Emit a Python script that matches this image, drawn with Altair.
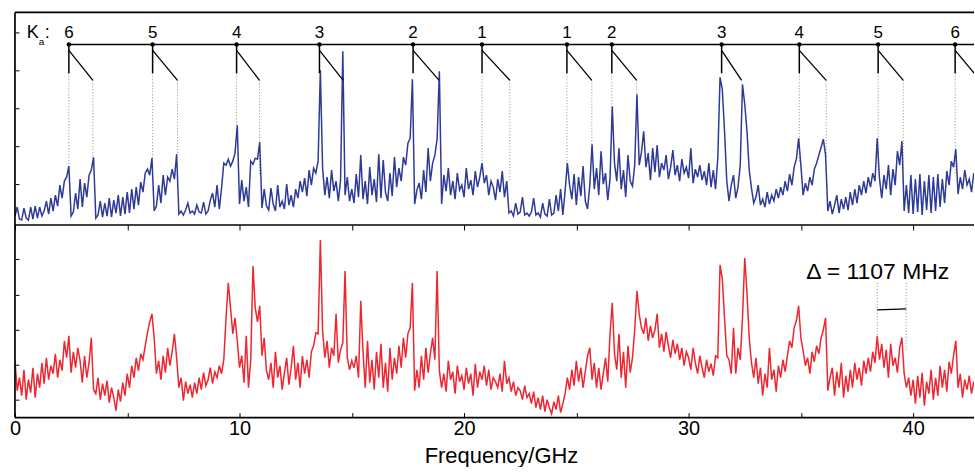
import altair as alt
import pandas as pd

# ---------------- data ----------------
# Upper (blue) spectrum, intensity in arbitrary units, 0.1 GHz steps from 0.0 GHz
BLUE_ROWS = [
    [9, 18, 6, 5, 17, 7, 5, 18, 6, 19],
    [7, 18, 9, 14, 24, 11, 27, 14, 30, 19],
    [40, 27, 44, 48, 59, 9, 13, 32, 16, 46],
    [18, 42, 28, 50, 55, 68, 7, 10, 24, 8],
    [22, 9, 27, 8, 25, 12, 30, 9, 28, 11],
    [33, 12, 36, 16, 38, 20, 43, 33, 52, 56],
    [50, 67, 14, 19, 40, 22, 50, 30, 48, 44],
    [56, 46, 71, 11, 14, 10, 15, 22, 12, 14],
    [11, 20, 13, 12, 23, 11, 14, 25, 32, 18],
    [40, 16, 37, 62, 60, 66, 59, 64, 72, 100],
    [21, 45, 24, 38, 18, 64, 61, 67, 66, 83],
    [17, 36, 19, 15, 37, 21, 14, 40, 18, 24],
    [16, 41, 20, 30, 18, 36, 27, 44, 33, 47],
    [29, 55, 40, 57, 52, 64, 155, 57, 30, 48],
    [27, 55, 34, 44, 24, 45, 174, 30, 48, 24],
    [36, 22, 51, 28, 70, 26, 44, 21, 58, 30],
    [46, 23, 71, 27, 65, 33, 24, 52, 29, 68],
    [38, 57, 44, 68, 60, 82, 87, 146, 21, 35],
    [42, 26, 55, 33, 77, 44, 62, 70, 86, 154],
    [21, 50, 34, 57, 30, 44, 26, 52, 35, 40],
    [28, 57, 36, 45, 30, 54, 38, 48, 62, 42],
    [50, 30, 44, 38, 25, 46, 33, 54, 28, 44],
    [12, 14, 9, 22, 11, 13, 28, 10, 12, 9],
    [13, 27, 10, 12, 8, 22, 11, 9, 26, 10],
    [12, 30, 14, 36, 10, 34, 62, 40, 26, 51],
    [20, 48, 29, 59, 24, 16, 40, 81, 36, 57],
    [30, 74, 41, 52, 25, 46, 119, 62, 44, 77],
    [36, 55, 28, 70, 44, 39, 60, 131, 60, 73],
    [94, 58, 72, 45, 77, 53, 80, 48, 62, 55],
    [70, 46, 58, 75, 50, 60, 44, 66, 52, 58],
    [47, 77, 42, 56, 48, 60, 45, 54, 40, 62],
    [38, 55, 36, 67, 148, 136, 94, 44, 24, 40],
    [50, 27, 38, 60, 141, 121, 94, 55, 37, 22],
    [28, 40, 20, 26, 18, 33, 21, 30, 24, 36],
    [27, 38, 30, 44, 34, 51, 40, 58, 66, 87],
    [60, 30, 42, 34, 48, 40, 56, 62, 70, 78],
    [86, 70, 14, 24, 11, 20, 30, 12, 26, 16],
    [28, 15, 33, 20, 36, 22, 40, 30, 44, 32],
    [48, 38, 52, 44, 87, 47, 27, 50, 36, 60],
    [30, 56, 40, 74, 60, 84, 14, 40, 12, 50],
    [11, 46, 13, 51, 10, 44, 15, 50, 12, 48],
    [14, 51, 18, 46, 22, 54, 40, 64, 58, 76],
    [31, 48, 36, 55, 40, 46, 33, 52],
]

# Lower (red) spectrum, same grid
RED_ROWS = [
    [57, 27, 40, 22, 48, 18, 38, 25, 50, 20],
    [44, 30, 55, 34, 60, 38, 52, 44, 64, 40],
    [58, 47, 77, 60, 82, 45, 66, 50, 70, 57],
    [35, 62, 40, 55, 80, 28, 24, 40, 18, 34],
    [22, 37, 15, 30, 20, 7, 28, 16, 35, 22],
    [44, 30, 52, 40, 60, 47, 64, 58, 72, 85],
    [96, 104, 80, 44, 57, 38, 62, 45, 70, 52],
    [66, 84, 60, 30, 40, 17, 36, 24, 33, 20],
    [35, 24, 40, 28, 45, 32, 38, 50, 34, 46],
    [40, 52, 44, 58, 100, 135, 110, 84, 100, 77],
    [50, 62, 35, 82, 30, 58, 152, 110, 96, 112],
    [62, 80, 47, 38, 55, 30, 66, 40, 52, 28],
    [45, 60, 33, 50, 72, 38, 55, 30, 62, 44],
    [58, 40, 66, 72, 85, 84, 178, 87, 60, 77],
    [50, 70, 62, 104, 55, 68, 75, 147, 60, 48],
    [57, 50, 62, 40, 117, 66, 30, 77, 35, 58],
    [28, 66, 40, 74, 30, 55, 26, 70, 38, 60],
    [44, 72, 50, 80, 60, 84, 90, 135, 27, 48],
    [30, 62, 38, 70, 45, 64, 80, 58, 147, 47],
    [30, 44, 26, 57, 38, 46, 24, 52, 36, 42],
    [28, 50, 34, 44, 22, 54, 30, 46, 38, 52],
    [32, 48, 28, 40, 36, 30, 44, 26, 57, 34],
    [40, 26, 36, 22, 30, 27, 18, 32, 20, 24],
    [14, 26, 10, 20, 8, 22, 6, 18, 10, 4],
    [16, 8, 22, 5, 14, 24, 40, 28, 48, 32],
    [57, 36, 50, 30, 46, 62, 70, 38, 55, 30],
    [50, 28, 44, 60, 36, 84, 115, 64, 48, 84],
    [40, 66, 30, 72, 45, 60, 88, 127, 104, 90],
    [84, 100, 77, 92, 80, 88, 104, 70, 84, 66],
    [86, 72, 60, 78, 64, 74, 58, 70, 52, 66],
    [60, 48, 70, 55, 44, 62, 50, 40, 58, 46],
    [54, 42, 62, 60, 153, 139, 100, 62, 58, 44],
    [90, 44, 70, 58, 100, 160, 125, 80, 55, 40],
    [60, 34, 50, 22, 44, 30, 70, 38, 48, 26],
    [52, 40, 58, 46, 62, 77, 70, 90, 97, 112],
    [80, 67, 52, 60, 44, 66, 56, 72, 64, 80],
    [88, 100, 27, 40, 50, 22, 46, 30, 55, 20],
    [42, 26, 48, 30, 55, 38, 50, 32, 57, 44],
    [60, 46, 66, 55, 82, 58, 74, 50, 68, 40],
    [74, 52, 60, 45, 70, 80, 44, 30, 40, 22],
    [38, 14, 42, 20, 45, 12, 36, 24, 48, 18],
    [40, 22, 52, 30, 48, 26, 56, 44, 62, 77],
    [30, 44, 20, 38, 28, 42, 24, 36],
]

FREQ_STEP = 0.1  # GHz per sample

# K_a assignment ladder
KA_LABELS = ["6", "5", "4", "3", "2", "1", "1", "2", "3", "4", "5", "6"]
KA_F1 = [2.40, 6.13, 9.87, 13.56, 17.73, 20.80, 24.58, 26.58, 31.47, 34.93, 38.44, 41.87]
KA_F2 = [3.47, 7.24, 10.89, 14.62, 18.89, 22.04, 25.69, 27.69, 32.36, 36.13, 39.56, 42.98]
KA_DOT1_END = [61, 67, 99, 152, 152, 62, 57, 121, 152, 64, 54, 51]
KA_DOT2_END = [69, 71, 51, 145, 145, 44, 81, 131, 145, 67, 47, 145]

# Delta marker in the lower trace
DELTA_F = [38.40, 39.69]
DELTA_DOT_END = [77, 67]
DELTA_TEXT = "\u0394 = 1107 MHz"

X_TICKS = [0, 5, 10, 15, 20, 25, 30, 35, 40]
Y_TICKS_TOP = [41, 79, 117, 155, 193]
Y_TICKS_BOT = [18, 53, 88, 123, 159]

# ---------------- layout / style constants ----------------
FONT = "Liberation Sans"
BLUE = "#2E3A97"
RED = "#EE2630"
X_DOMAIN = [0, 42.71]
W = 961
H_TOP = 213
H_BOT = 193
H = H_TOP + H_BOT
FRAME_W = 1.7
BAR_V = 181      # level of the horizontal ladder line
STEM_END = 152   # lower end of the vertical stems
DIAG_TOP = 175
DIAG_BOT = 145
LABEL_V = 187
DELTA_TOP = 135
DELTA_BAR = [108, 109]

# ---------------- tables ----------------
blue = [v for row in BLUE_ROWS for v in row]
red = [v for row in RED_ROWS for v in row]
freq = [round(i * FREQ_STEP, 1) for i in range(len(blue))]
df_blue = pd.DataFrame({"f": freq, "v": blue})
df_red = pd.DataFrame({"f": freq[: len(red)], "v": red})

df_ka = pd.DataFrame({
    "lab": KA_LABELS, "f1": KA_F1, "f2": KA_F2,
    "d1": KA_DOT1_END, "d2": KA_DOT2_END,
    "bar": [BAR_V] * len(KA_F1), "stem": [STEM_END] * len(KA_F1),
    "dt": [DIAG_TOP] * len(KA_F1), "db": [DIAG_BOT] * len(KA_F1),
    "lv": [LABEL_V] * len(KA_F1),
})
df_bar = pd.DataFrame({"a": [KA_F1[0]], "b": [X_DOMAIN[1]], "v": [BAR_V]})
df_one = pd.DataFrame({"k": [0]})

xs = alt.Scale(domain=X_DOMAIN, nice=False, zero=False)
# two stacked panels share one plot area: each y scale gets its own pixel band
ys_top = alt.Scale(domain=[0, H_TOP], range=[H_TOP, 0], nice=False, zero=False)
ys_bot = alt.Scale(domain=[0, H_BOT], range=[H, H_TOP], nice=False, zero=False)


def yaxis(vals):
    return alt.Axis(values=vals, orient="left", labels=False, domain=False, grid=False, ticks=True,
                    tickSize=4, offset=-4, title=None, tickColor="black", tickWidth=1,
                    minExtent=0, maxExtent=0)


def frame(x, x2, y, y2):
    return alt.Chart(df_one).mark_rule(color="black", strokeWidth=FRAME_W).encode(
        x=alt.value(x), x2=alt.value(x2), y=alt.value(y), y2=alt.value(y2))


# ---------------- upper panel ----------------
dots1 = alt.Chart(df_ka).mark_rule(color="#8c8c8c", strokeWidth=1, strokeDash=[1, 2], clip=True).encode(
    x=alt.X("f1:Q", scale=xs, axis=None),
    y=alt.Y("stem:Q", scale=ys_top, axis=None), y2="d1:Q")
dots2 = alt.Chart(df_ka).mark_rule(color="#8c8c8c", strokeWidth=1, strokeDash=[1, 2], clip=True).encode(
    x=alt.X("f2:Q", scale=xs, axis=None),
    y=alt.Y("db:Q", scale=ys_top, axis=None), y2="d2:Q")
blue_line = alt.Chart(df_blue).mark_line(color=BLUE, strokeWidth=1.5, clip=True).encode(
    x=alt.X("f:Q", scale=xs, axis=None),
    y=alt.Y("v:Q", scale=ys_top, axis=yaxis(Y_TICKS_TOP)))
bar = alt.Chart(df_bar).mark_rule(color="black", strokeWidth=1.5, clip=True).encode(
    x=alt.X("a:Q", scale=xs, axis=None), x2="b:Q",
    y=alt.Y("v:Q", scale=ys_top, axis=None))
stems = alt.Chart(df_ka).mark_rule(color="black", strokeWidth=1.5, clip=True).encode(
    x=alt.X("f1:Q", scale=xs, axis=None),
    y=alt.Y("bar:Q", scale=ys_top, axis=None), y2="stem:Q")
diags = alt.Chart(df_ka).mark_rule(color="black", strokeWidth=1.3, clip=True).encode(
    x=alt.X("f1:Q", scale=xs, axis=None), x2="f2:Q",
    y=alt.Y("dt:Q", scale=ys_top, axis=None), y2="db:Q")
pts = alt.Chart(df_ka).mark_circle(color="black", size=20, opacity=1).encode(
    x=alt.X("f1:Q", scale=xs, axis=None),
    y=alt.Y("bar:Q", scale=ys_top, axis=None))
labels = alt.Chart(df_ka).mark_text(font=FONT, fontSize=17, color="black", baseline="alphabetic",
                                    align="center").encode(
    x=alt.X("f1:Q", scale=xs, axis=None),
    y=alt.Y("lv:Q", scale=ys_top, axis=None), text="lab:N")

df_k = pd.DataFrame({"f": [0.52, 1.33], "v": [LABEL_V, LABEL_V], "t": ["K", ":"]})
df_sub = pd.DataFrame({"f": [1.06], "v": [180], "t": ["a"]})
k_text = alt.Chart(df_k).mark_text(font=FONT, fontSize=18, color="black", align="left",
                                   baseline="alphabetic").encode(
    x=alt.X("f:Q", scale=xs, axis=None), y=alt.Y("v:Q", scale=ys_top, axis=None), text="t:N")
sub_text = alt.Chart(df_sub).mark_text(font=FONT, fontSize=10, color="black", align="left",
                                       baseline="alphabetic").encode(
    x=alt.X("f:Q", scale=xs, axis=None), y=alt.Y("v:Q", scale=ys_top, axis=None), text="t:N")

# ---------------- lower panel ----------------
x_bottom = alt.Axis(values=X_TICKS, orient="bottom",
                    labelExpr="datum.value % 10 === 0 ? datum.label : ''",
                    domain=False, grid=False, tickSize=5, offset=-5, tickColor="black",
                    labelFlush=False, labelFontSize=20, labelFont=FONT, labelColor="black",
                    labelPadding=1, title="Frequency/GHz", titleFont=FONT, titleFontSize=22,
                    titleFontWeight="normal", titleColor="black", titlePadding=7,
                    titleX=487, titleAlign="center")
# ticks hanging from the divider into the lower panel
x_mid = alt.Axis(values=X_TICKS, orient="bottom", labels=False, domain=False, grid=False,
                 tickSize=5, offset=-H_BOT, tickColor="black", title=None, minExtent=0, maxExtent=0)

red_line = alt.Chart(df_red).mark_line(color=RED, strokeWidth=1.5, clip=True).encode(
    x=alt.X("f:Q", scale=xs, axis=x_bottom),
    y=alt.Y("v:Q", scale=ys_bot, axis=yaxis(Y_TICKS_BOT)))

df_delta = pd.DataFrame({"f": DELTA_F, "top": [DELTA_TOP, DELTA_TOP], "end": DELTA_DOT_END})
delta_dots = alt.Chart(df_delta).mark_rule(color="#8c8c8c", strokeWidth=1, strokeDash=[1, 2]).encode(
    x=alt.X("f:Q", scale=xs, axis=x_mid),
    y=alt.Y("top:Q", scale=ys_bot, axis=None), y2="end:Q")
df_dbar = pd.DataFrame({"a": [DELTA_F[0]], "b": [DELTA_F[1]], "v1": [DELTA_BAR[0]], "v2": [DELTA_BAR[1]]})
delta_bar = alt.Chart(df_dbar).mark_rule(color="black", strokeWidth=1.2).encode(
    x=alt.X("a:Q", scale=xs, axis=None), x2="b:Q",
    y=alt.Y("v1:Q", scale=ys_bot, axis=None), y2="v2:Q")
df_dtext = pd.DataFrame({"f": [35.24], "v": [139], "t": [DELTA_TEXT]})
delta_text = alt.Chart(df_dtext).mark_text(font=FONT, fontSize=23, color="black", align="left",
                                           baseline="alphabetic").encode(
    x=alt.X("f:Q", scale=xs, axis=None), y=alt.Y("v:Q", scale=ys_bot, axis=None), text="t:N")

chart = alt.layer(
    dots1, dots2, blue_line, bar, stems, diags, pts, labels, k_text, sub_text,
    red_line, delta_dots, delta_bar, delta_text,
    frame(0, 0, 0, H), frame(0, W, 0, 0), frame(0, W, H_TOP, H_TOP), frame(0, W, H, H),
).resolve_scale(y="independent").resolve_axis(x="independent", y="independent").properties(
    width=W, height=H,
    padding={"left": 9, "top": 11, "right": 0, "bottom": 0}, background="white",
).configure_view(stroke="transparent")

chart.save("out.html", embed_options={"renderer": "svg", "actions": False})
